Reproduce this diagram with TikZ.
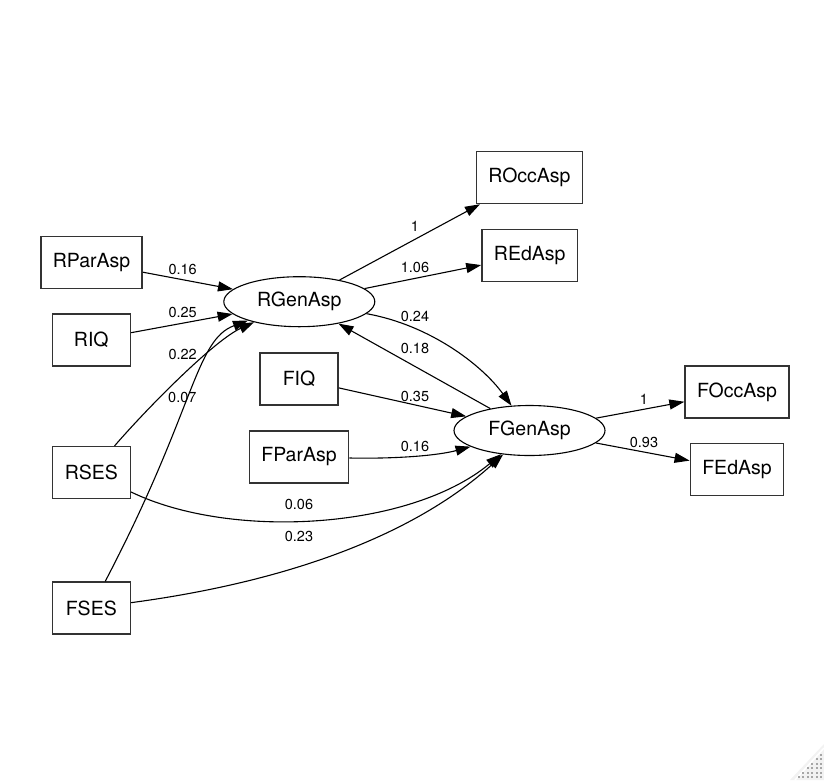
\documentclass[tikz,border=0pt]{standalone}
\usepackage{fontspec}
\setmainfont{TeX Gyre Heros}
\usetikzlibrary{arrows.meta,shapes.geometric}
\begin{document}
\begin{tikzpicture}[>={Triangle[length=15pt,width=10pt]},x=1pt,y=-1pt,
	obs/.style={draw=black!80,line width=1.5pt,minimum width=78pt,minimum height=52pt,inner xsep=12pt,font=\fontsize{19.5}{23}\selectfont},
	lat/.style={draw,ellipse,line width=1.1pt,minimum width=151pt,minimum height=50pt,inner sep=0pt,font=\fontsize{19.5}{23}\selectfont},
	eff/.style={->,line width=1.1pt},
	lbl/.style={font=\fontsize{14.5}{17}\selectfont,inner sep=0pt}]
		\useasboundingbox (0,0) rectangle (824,780);
		\node[obs] (RParAsp) at (91.5,262.5) {RParAsp};
		\node[obs] (RIQ) at (91.3,340) {RIQ};
		\node[obs] (RSES) at (91.3,472.7) {RSES};
		\node[obs] (FSES) at (91.3,608) {FSES};
		\node[obs] (FIQ) at (299,379) {FIQ};
		\node[obs] (FParAsp) at (299,457) {FParAsp};
		\node[lat] (RGenAsp) at (299.3,301.7) {RGenAsp};
		\node[lat] (FGenAsp) at (529.5,430.5) {FGenAsp};
		\node[obs] (ROccAsp) at (529.5,177.5) {ROccAsp};
		\node[obs] (REdAsp) at (529.7,255.3) {REdAsp};
		\node[obs] (FOccAsp) at (737,392) {FOccAsp};
		\node[obs] (FEdAsp) at (737,469.5) {FEdAsp};
		
		\draw[eff] (RParAsp) -- (RGenAsp) node[lbl] at (182.7,269) {0.16};
		\draw[eff] (RIQ) -- (RGenAsp) node[lbl] at (182.7,312.7) {0.25};
		\draw[eff] (RSES) .. controls (150,405) and (215,340) .. (RGenAsp) node[lbl] at (182.7,354) {0.22};
		\draw[eff] (FSES) .. controls (195,410) and (195,340) .. (RGenAsp) node[lbl] at (182.3,397.3) {0.07};
		\draw[eff] (RGenAsp) -- (ROccAsp) node[lbl] at (415,226) {1};
		\draw[eff] (RGenAsp) -- (REdAsp) node[lbl] at (415,267.7) {1.06};
		\draw[eff] (RGenAsp) .. controls (430,325) and (482,365) .. (FGenAsp) node[lbl] at (415,316.7) {0.24};
		\draw[eff] (FGenAsp) -- (RGenAsp) node[lbl] at (415,348.3) {0.18};
		\draw[eff] (FIQ) -- (FGenAsp) node[lbl] at (415,396) {0.35};
		\draw[eff] (FParAsp) .. controls (400,459) and (440,455) .. (FGenAsp) node[lbl] at (415,446) {0.16};
		\draw[eff] (RSES) .. controls (230,540) and (410,530) .. (FGenAsp) node[lbl] at (299,504.3) {0.06};
		\draw[eff] (FSES) .. controls (300,580) and (420,530) .. (FGenAsp) node[lbl] at (299,536) {0.23};
		\draw[eff] (FGenAsp) -- (FOccAsp) node[lbl] at (644,399.3) {1};
		\draw[eff] (FGenAsp) -- (FEdAsp) node[lbl] at (644,442.7) {0.93};
		
		\fill[gray!10] (824,744) -- (824,780) -- (790,780) -- cycle;
		\draw[white,line width=1.5pt] (824,748) -- (795,780);
		\foreach \i in {0,...,5}{\foreach \j in {0,...,\i}{\fill[gray!70] ({820-4.5*\j},{776-4.5*(\i-\j)}) rectangle +(2.2,2.2);}}
		
		\end{tikzpicture}
\end{document}
